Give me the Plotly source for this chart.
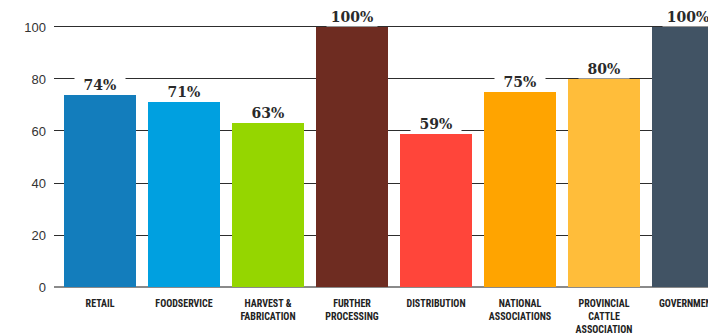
import plotly.graph_objects as go

# Share of respondents by sector (percent)
categories = ["RETAIL", "FOODSERVICE", "HARVEST &<br>FABRICATION", "FURTHER<br>PROCESSING",
              "DISTRIBUTION", "NATIONAL<br>ASSOCIATIONS", "PROVINCIAL<br>CATTLE<br>ASSOCIATION",
              "GOVERNMENT"]
values = [74, 71, 63, 100, 59, 75, 80, 100]
colors = ["#137dbc", "#00a0e0", "#95d600", "#6e2c21", "#ff453a", "#ffa400", "#ffbd3a", "#415364"]
y_ticks = [0, 20, 40, 60, 80, 100]

x_pos = list(range(len(categories)))

fig = go.Figure()
fig.add_trace(go.Bar(
    x=x_pos, y=values, marker=dict(color=colors, line=dict(width=0)),
    width=72 / 84, hoverinfo="skip",
))

# value labels with white boxes that break the gridlines
for xi, v in zip(x_pos, values):
    fig.add_annotation(
        x=xi, y=v, text=f"{v}%", showarrow=False, yanchor="bottom", yshift=0,
        font=dict(family="DejaVu Serif", size=14, color="#2a2a2a", weight="bold"),
        bgcolor="white", width=48, borderpad=1,
    )

fig.update_layout(
    width=708, height=334,
    margin=dict(l=54, r=0, t=0, b=47, autoexpand=False),
    paper_bgcolor="white", plot_bgcolor="white",
    showlegend=False, bargap=0,
    xaxis=dict(
        range=[-0.548, 7.238], tickmode="array", tickvals=x_pos, ticktext=categories,
        showgrid=False, zeroline=False, showline=False, ticks="",
        tickfont=dict(family="Liberation Sans Narrow, Roboto Condensed, Arial Narrow, sans-serif",
                      size=10, color="#222", weight="bold"),
        tickangle=0, ticklabelstandoff=9, ticklabeloverflow="allow", automargin=False,
    ),
    yaxis=dict(
        range=[0, 110.38], tickmode="array", tickvals=y_ticks, automargin=False,
        showgrid=True, gridcolor="#2d2d2d", gridwidth=1,
        zeroline=True, zerolinecolor="#8a8a8a", zerolinewidth=2,
        showline=False, ticks="", ticklabelstandoff=7,
        tickfont=dict(family="Liberation Sans, Arial, sans-serif", size=13, color="#333"),
    ),
)

fig.write_html("out.html")
